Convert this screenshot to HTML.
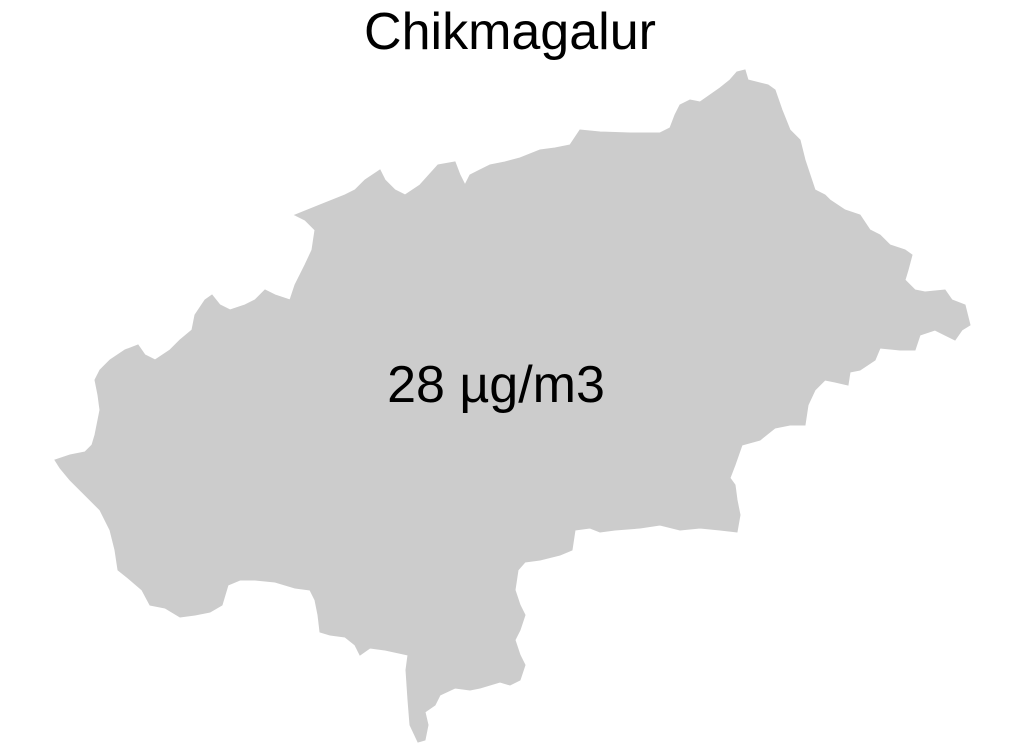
<!DOCTYPE html>
<html>
<head>
<meta charset="utf-8">
<style>
  html, body { margin: 0; padding: 0; background: #ffffff; }
  body { width: 1021px; height: 751px; overflow: hidden; }
  svg { display: block; }
  text { font-family: "Liberation Sans", Arial, sans-serif; fill: #000; }
</style>
</head>
<body>
<svg id="map" width="1021" height="751" viewBox="0 0 1021 751">
  <text x="510" y="49" font-size="52" text-anchor="middle">Chikmagalur</text>
  <polygon id="region" fill="#cccccc" stroke="#cccccc" stroke-width="1" points=""/>
  <text id="val" x="496" y="402" font-size="52" text-anchor="middle"></text>
</svg>
<script>
const districtName = "Chikmagalur";
const pmValue = 28;
const pmUnit = "µg/m3";
const outline = [
[737,72],[745,70],[748,80],[768,85],[775,90],[782,110],[790,130],[800,140],[805,160],[810,175],[815,190],[825,195],[830,200],[845,210],[860,215],[870,230],[880,235],[890,245],[905,250],[912,255],[908,270],[905,280],[915,290],[925,292],[945,290],[952,300],[965,305],[970,325],[962,330],[955,340],[945,335],[935,330],[920,335],[915,350],[900,350],[880,348],[875,360],[860,370],[850,372],[848,385],[835,382],[825,380],[815,390],[808,405],[805,425],[790,425],[775,428],[760,440],[742,445],[735,465],[730,478],[735,485],[737,500],[740,515],[737,532],[720,530],[700,528],[680,530],[660,525],[640,528],[615,530],[600,532],[590,528],[575,530],[572,550],[560,555],[540,560],[525,562],[518,570],[515,590],[520,605],[525,615],[520,630],[515,640],[520,655],[525,665],[520,680],[510,685],[500,682],[480,688],[470,690],[455,688],[440,695],[435,705],[425,712],[428,725],[425,740],[418,742],[410,725],[408,700],[406,670],[408,655],[385,650],[370,648],[360,655],[355,645],[345,637],[330,635],[320,632],[318,615],[315,600],[310,590],[295,588],[275,582],[255,580],[240,580],[228,585],[222,605],[210,612],[195,615],[180,617],[165,608],[150,605],[142,590],[128,578],[118,570],[115,550],[110,530],[100,510],[85,495],[70,480],[60,468],[55,460],[70,455],[85,452],[92,445],[95,435],[100,410],[98,395],[95,380],[100,370],[110,360],[125,350],[138,345],[145,355],[155,360],[170,350],[180,340],[192,330],[195,315],[205,300],[212,295],[220,305],[230,310],[245,305],[255,300],[265,290],[275,295],[290,300],[295,285],[300,275],[305,265],[312,250],[315,230],[305,220],[295,215],[320,205],[345,195],[355,190],[365,180],[380,170],[385,180],[395,190],[405,195],[420,185],[438,165],[455,162],[460,175],[465,185],[470,175],[480,170],[490,165],[505,162],[520,158],[540,150],[555,148],[570,145],[580,130],[600,132],[630,133],[660,133],[670,128],[675,115],[680,105],[690,100],[700,102],[710,95],[720,88],[730,80]
];
document.getElementById('region').setAttribute('points', outline.map(p => p.join(',')).join(' '));
document.getElementById('val').textContent = pmValue + " " + pmUnit;
</script>
</body>
</html>
